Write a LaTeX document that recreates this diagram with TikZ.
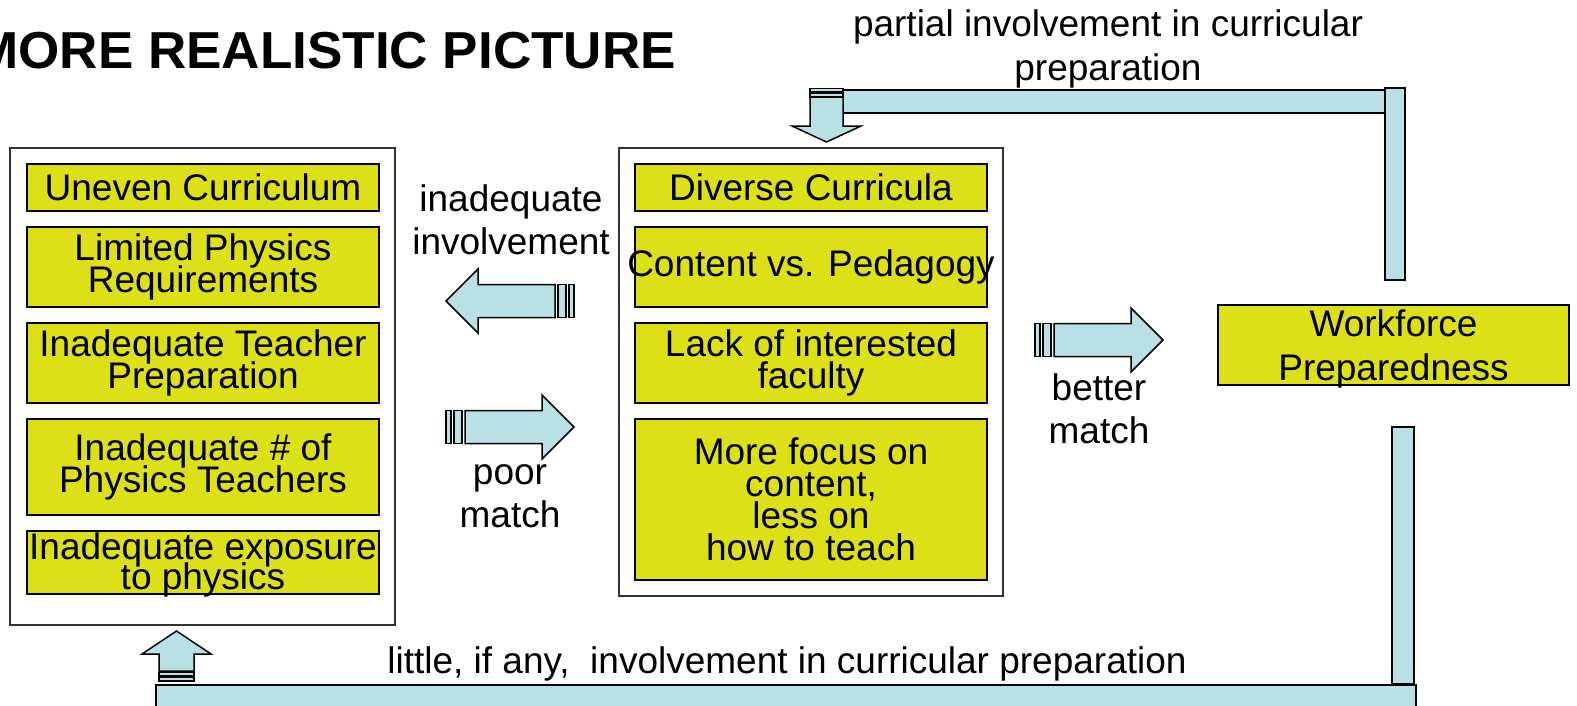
\documentclass[tikz,border=0pt]{standalone}
\usepackage{graphicx}
\usepackage{fontspec}
\setmainfont{Liberation Sans}
\definecolor{lb}{RGB}{185,224,228}
\definecolor{yl}{RGB}{221,223,23}
\newcommand\myfnt[2]{\fontsize{#1}{#2}\selectfont\lineskiplimit=-100pt\relax}
\begin{document}
\begin{tikzpicture}[x=1pt,y=-1pt,
  ybox/.style={draw=black, fill=yl, line width=1.5pt, inner sep=0pt, align=center,
    minimum width=352pt, font=\myfnt{37}{32}},
  obox/.style={draw=black!80, line width=1.5pt, fill=white},
  lbl/.style={align=center, inner sep=0pt, font=\myfnt{37}{43}},
  arr/.style={draw=black, fill=lb, line width=1.5pt, line join=miter},
  pics/barrow/.style={code={
    \draw[arr] (0,0) -- (-32,-32) -- (-32,-16.5) -- (-109,-16.5) -- (-109,16.5)
      -- (-32,16.5) -- (-32,32) -- cycle;
    \draw[arr] (-112,-16.5) rectangle (-120,16.5);
    \draw[arr] (-123,-16.5) rectangle (-128,16.5);
  }}]
\useasboundingbox (0,0) rectangle (1577,705);

% title
\node[anchor=base east, inner sep=0pt, font=\fontsize{52}{60}\bfseries\selectfont] (title) at (676,68) {\scalebox{1.02}[1]{MORE REALISTIC PICTURE}};

% outer boxes
\draw[obox] (10,148) rectangle (395,625);
\draw[obox] (619,148) rectangle (1003,596);

% left column
\node[ybox, minimum height=47pt] (l1) at (203,187.5) {Uneven Curriculum};
\node[ybox, minimum height=80pt] (l2) at (203,267) {Limited Physics\\Requirements};
\node[ybox, minimum height=80pt] (l3) at (203,363) {Inadequate Teacher\\Preparation};
\node[ybox, minimum height=96pt] (l4) at (203,467) {Inadequate \# of\\Physics Teachers};
\node[ybox, minimum height=63pt] (l5) at (203,562.5) {};
\node[lbl, font=\myfnt{37}{30}] (l5t) at (203,564.5) {Inadequate exposure\\to physics};

% middle column
\node[ybox, minimum height=47pt] (m1) at (811,187.5) {Diverse Curricula};
\node[ybox, minimum height=80pt] (m2) at (811,267) {\makebox[0pt]{Content vs. Pedagogy}};
\node[ybox, minimum height=80pt] (m3) at (811,363) {Lack of interested\\faculty};
\node[ybox, minimum height=161pt] (m4) at (811,499.5) {More focus on\\content,\\less on\\how to teach};

% workforce
\node[ybox, minimum width=351pt, minimum height=80pt] (wf) at (1393.5,345) {};
\node[lbl, font=\myfnt{37}{44}] (wft) at (1393.5,349) {Workforce\\Preparedness};

% block arrows
\pic[rotate=180] at (446,301) {barrow};
\pic at (574,427) {barrow};
\pic at (1163,340) {barrow};

% labels
\node[lbl] (linv) at (511,220) {inadequate\\involvement};
\node[lbl] (lpoor) at (510,496) {poor\\match};
\node[lbl] (lbet) at (1099,409) {better\\match};
\node[lbl, font=\myfnt{37}{44}] (ltop) at (1108,49) {partial involvement in curricular\\preparation};
\node[lbl] (lbot) at (787,664) {little, if any,\ \ involvement in curricular preparation};

% top connector
\draw[arr] (843,90) rectangle (1390,113);
\draw[arr] (1385,88) rectangle (1405,280);
\draw[arr] (810,97) -- (843,97) -- (843,126) -- (861,126) -- (826.5,142) -- (792,126)
  -- (810,126) -- cycle;
\draw[arr] (810,88.5) rectangle (843,92);
\draw[arr] (810,93.5) rectangle (843,97);

% bottom connector
\draw[arr] (156,685) rectangle (1416,715);
\draw[arr] (1392,427) rectangle (1414,684);
\draw[arr] (159,671) -- (159,654) -- (142,654) -- (176.5,631) -- (211,654) -- (194,654)
  -- (194,671) -- cycle;
\draw[arr] (159,672.5) rectangle (194,676);
\draw[arr] (159,677.5) rectangle (194,681);
\end{tikzpicture}
\end{document}
